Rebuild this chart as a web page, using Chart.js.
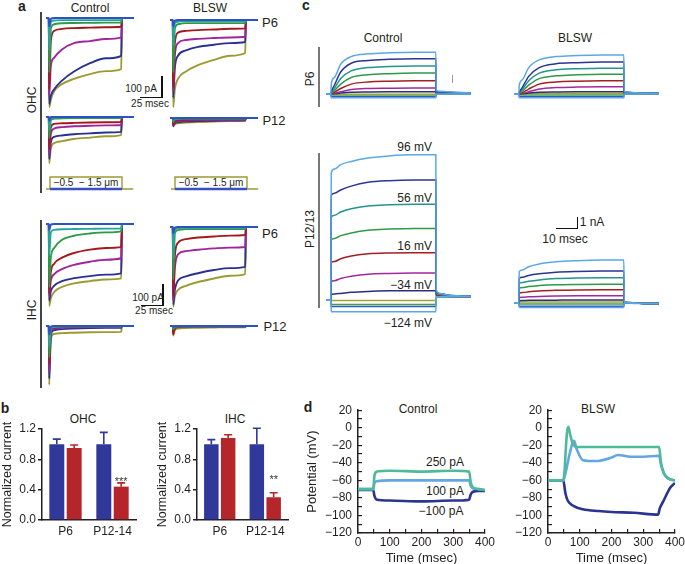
<!DOCTYPE html>
<html>
<head>
<meta charset="utf-8">
<script src="https://cdn.jsdelivr.net/npm/chart.js@4.4.0/dist/chart.umd.min.js"></script>
<style>
body { margin: 0; width: 685px; height: 564px; position: relative; overflow: hidden; background: #fff;
  font-family: "Liberation Sans", Arial, sans-serif; color: #231f20; }
canvas { position: absolute; }
.t { position: absolute; white-space: nowrap; font-size: 12px; line-height: 1; transform: translate(-50%, -50%); }
.r { transform: translate(-100%, -50%); }
.rot { transform: translate(-50%, -50%) rotate(-90deg); }
.b { font-weight: bold; font-size: 14px; }
.s { font-size: 10px; }
.m { font-size: 13px; }
.ln { position: absolute; }
</style>
</head>
<body>

<!-- panel letters and titles -->
<div class="t b" style="left:22px;top:6px">a</div>
<div class="t" style="left:90px;top:8px">Control</div>
<div class="t" style="left:210px;top:8px">BLSW</div>
<div class="t m" style="left:270px;top:22px">P6</div>
<div class="t m" style="left:274px;top:120px">P12</div>
<div class="t rot" style="left:32px;top:100px">OHC</div>
<div class="ln" style="left:40px;top:12px;width:2px;height:181px;background:#444"></div>
<div class="t s" style="left:141px;top:89px">100 pA</div>
<div class="t s" style="left:150px;top:104px">25 msec</div>
<div class="ln" style="left:161px;top:76px;width:1.5px;height:22px;background:#111"></div>
<div class="ln" style="left:140px;top:96.5px;width:22px;height:1.5px;background:#111"></div>
<div class="t s" style="left:86px;top:183px">−0.5 &nbsp;− 1.5 μm</div>
<div class="t s" style="left:211px;top:183px">−0.5 &nbsp;− 1.5 μm</div>

<div class="t rot" style="left:32px;top:310px">IHC</div>
<div class="ln" style="left:40px;top:220px;width:2px;height:168px;background:#444"></div>
<div class="t m" style="left:270px;top:233px">P6</div>
<div class="t m" style="left:275px;top:326px">P12</div>
<div class="t s" style="left:148px;top:298px">100 pA</div>
<div class="t s" style="left:154px;top:311px">25 msec</div>
<div class="ln" style="left:162px;top:284px;width:1.5px;height:22px;background:#111"></div>
<div class="ln" style="left:141px;top:304.5px;width:22px;height:1.5px;background:#111"></div>

<div class="t b" style="left:5px;top:408px">b</div>
<div class="t" style="left:83px;top:419px">OHC</div>
<div class="t" style="left:235px;top:419px">IHC</div>

<div class="t b" style="left:306px;top:5px">c</div>
<div class="t" style="left:383px;top:38px">Control</div>
<div class="t" style="left:575px;top:38px">BLSW</div>
<div class="t rot" style="left:310px;top:79px">P6</div>
<div class="ln" style="left:318px;top:47px;width:2px;height:60px;background:#777"></div>
<div class="t rot" style="left:310px;top:229px">P12/13</div>
<div class="ln" style="left:318px;top:153px;width:2px;height:155px;background:#777"></div>
<div class="ln" style="left:452px;top:75px;width:1px;height:8px;background:#999"></div>
<div class="t r" style="left:432px;top:147px">96 mV</div>
<div class="t r" style="left:432px;top:198px">56 mV</div>
<div class="t r" style="left:432px;top:246px">16 mV</div>
<div class="t r" style="left:432px;top:285px">−34 mV</div>
<div class="t r" style="left:432px;top:323px">−124 mV</div>
<div class="ln" style="left:556px;top:227.5px;width:22px;height:1.5px;background:#111"></div>
<div class="ln" style="left:576.5px;top:217px;width:1.5px;height:12px;background:#111"></div>
<div class="t" style="left:592px;top:222px">1 nA</div>
<div class="t" style="left:565px;top:239px">10 msec</div>

<div class="t b" style="left:308px;top:407px">d</div>
<div class="t" style="left:418px;top:409px">Control</div>
<div class="t" style="left:598px;top:409px">BLSW</div>
<div class="t" style="left:445px;top:462px">250 pA</div>
<div class="t" style="left:445px;top:491px">100 pA</div>
<div class="t" style="left:441px;top:511px">−100 pA</div>

<script>
Chart.defaults.font.family = '"Liberation Sans", Arial, sans-serif';
Chart.defaults.font.size = 12;
Chart.defaults.color = "#231f20";

// ---------- panel a : currents (pA) vs time (msec) ----------
const tA = [0, 3.5, 4, 6, 10, 20, 35, 55, 75, 94, 95, 110];
// order of rows: blue, teal, green, red, magenta, navy, olive
const colorsA = ["#2d52c6", "#25a597", "#2c9a48", "#a3191d", "#a1249c", "#2a2f92", "#9c9b33"];

const ohcP6Ctrl = [
  [0, 0, -40, -5, 0, 0, 0, 0, 0, 0, 0, 0],
  [0, 0, -150, -20, -12, -10, -10, -10, -10, -10, 0, 0],
  [0, 0, -260, -50, -30, -25, -24, -23, -22, -22, 0, 0],
  [0, 0, -340, -110, -62, -52, -48, -46, -44, -42, 0, 0],
  [0, 0, -370, -230, -190, -150, -120, -110, -100, -92, 0, 0],
  [0, 0, -410, -370, -340, -298, -255, -215, -192, -180, 0, 0],
  [0, 0, -425, -390, -350, -315, -290, -267, -253, -243, 0, 0],
];
const ohcP6Blsw = [
  [0, 0, -30, -3, 0, 0, 0, 0, 0, 0, 0, 0],
  [0, 0, -120, -15, -8, -5, -5, -5, -5, -5, 0, 0],
  [0, 0, -250, -40, -20, -15, -15, -15, -15, -15, 0, 0],
  [0, 0, -320, -110, -60, -52, -48, -45, -42, -40, 0, 0],
  [0, 0, -340, -170, -110, -95, -90, -86, -83, -80, 0, 0],
  [0, 0, -370, -230, -170, -145, -128, -118, -110, -105, 0, 0],
  [0, 0, -415, -330, -280, -245, -215, -190, -170, -157, 0, 0],
];
const ohcP12Ctrl = [
  [0, 0, -20, 0, 0, 0, 0, 0, 0, 0, 0, 0],
  [0, 0, -60, -8, -3, -2, -2, -2, -2, -2, 0, 0],
  [0, 0, -100, -15, -8, -6, -5, -5, -5, -5, 0, 0],
  [0, 0, -150, -50, -33, -30, -28, -26, -25, -24, 0, 0],
  [0, 0, -180, -80, -55, -48, -44, -42, -40, -38, 0, 0],
  [0, 0, -200, -120, -95, -88, -82, -78, -74, -71, 0, 0],
  [0, 0, -220, -150, -125, -115, -105, -98, -92, -86, 0, 0],
];
const ohcP12Blsw = [
  [0, 0, -5, 0, 0, 0, 0, 0, 0, 0, 0, 0],
  [0, 0, -10, -3, -2, -1, -1, -1, -1, -1, 0, 0],
  [0, 0, -20, -6, -4, -3, -3, -3, -3, -3, 0, 0],
  [0, 0, -30, -15, -10, -8, -7, -6, -5, -5, 0, 0],
  [0, 0, -35, -20, -15, -12, -10, -9, -8, -8, 0, 0],
  [0, 0, -38, -25, -20, -17, -15, -13, -12, -11, 0, 0],
  [0, 0, -40, -30, -25, -22, -19, -17, -15, -14, 0, 0],
];
const ihcP6Ctrl = [
  [0, 0, -30, -3, 0, 0, 0, 0, 0, 0, 0, 0],
  [0, 0, -150, -40, -28, -25, -24, -23, -22, -22, 0, 0],
  [0, 0, -300, -160, -115, -75, -56, -45, -40, -35, 0, 0],
  [0, 0, -330, -230, -190, -160, -138, -122, -114, -110, 0, 0],
  [0, 0, -345, -270, -240, -215, -195, -180, -170, -163, 0, 0],
  [0, 0, -365, -320, -295, -272, -258, -248, -241, -235, 0, 0],
  [0, 0, -390, -355, -325, -300, -283, -272, -264, -259, 0, 0],
];
const ihcP6Blsw = [
  [0, 0, -30, -3, 0, 0, 0, 0, 0, 0, 0, 0],
  [0, 0, -150, -15, -5, -4, -4, -4, -4, -4, 0, 0],
  [0, 0, -250, -30, -15, -10, -10, -10, -10, -10, 0, 0],
  [0, 0, -330, -140, -75, -58, -50, -45, -41, -38, 0, 0],
  [0, 0, -350, -200, -130, -115, -108, -102, -98, -95, 0, 0],
  [0, 0, -370, -300, -255, -235, -220, -205, -196, -190, 0, 0],
  [0, 0, -380, -330, -300, -280, -262, -245, -232, -224, 0, 0],
];
const ihcP12Ctrl = [
  [0, 0, -40, -3, 0, 0, 0, 0, 0, 0, 0, 0],
  [0, 0, -100, -8, -3, -2, -1, -1, -1, -1, 0, 0],
  [0, 0, -150, -15, -5, -3, -2, -2, -2, -2, 0, 0],
  [0, 0, -180, -20, -8, -5, -4, -3, -3, -3, 0, 0],
  [0, 0, -220, -30, -12, -8, -6, -5, -5, -5, 0, 0],
  [0, 0, -250, -40, -20, -15, -12, -10, -9, -8, 0, 0],
  [0, 0, -280, -60, -38, -34, -32, -30, -29, -28, 0, 0],
];
const ihcP12Blsw = [
  [0, 0, -5, 0, 0, 0, 0, 0, 0, 0, 0, 0],
  [0, 0, -10, -2, -1, -1, -1, -1, -1, -1, 0, 0],
  [0, 0, -15, -4, -2, -2, -2, -2, -2, -2, 0, 0],
  [0, 0, -40, -12, -6, -4, -3, -3, -3, -3, 0, 0],
  [0, 0, -30, -8, -5, -3, -3, -3, -3, -3, 0, 0],
  [0, 0, -20, -5, -3, -2, -2, -2, -2, -2, 0, 0],
  [0, 0, -45, -20, -12, -10, -8, -7, -6, -6, 0, 0],
];
// stimulus step (relative units)
const tStim = [0, 5, 5, 95, 95, 109];
const vStim = [0, 0, 1, 1, 0, 0];
const tStimBase = [5, 95];
const vStimBase = [0, 0];

// ---------- panel c : currents (nA) vs time (msec) ----------
const tC = [0, 2.3, 2.5, 4, 7, 12, 20, 30, 42, 52.3, 52.5, 54, 58, 63, 69];
// order: light blue (top), light blue (bottom), navy, teal, green, red, magenta, dark navy, olive, green, blue
const colorsC = ["#5aa9e6", "#5aa9e6", "#2b3593", "#24958a", "#2e9a47", "#a31f22",
  "#a1299d", "#2a2f7c", "#a5a236", "#3da050", "#3a55c8"];

const p6Ctrl = [
  [0, 0, 0.9, 1.5, 2.7, 3.4, 3.65, 3.75, 3.8, 3.8, 0.3, 0.25, 0.2, 0.15, 0.1],
  [0, 0, -0.35, -0.35, -0.35, -0.35, -0.35, -0.35, -0.35, -0.35, 0, 0, 0, 0, 0],
  [0, 0, 0.2, 0.8, 2.0, 2.8, 3.05, 3.15, 3.2, 3.2, 0.25, 0.2, 0.15, 0.12, 0.1],
  [0, 0, 0.1, 0.5, 1.4, 2.1, 2.4, 2.5, 2.55, 2.55, 0.2, 0.18, 0.14, 0.1, 0.1],
  [0, 0, 0.05, 0.3, 0.9, 1.5, 1.75, 1.85, 1.9, 1.9, 0.2, 0.15, 0.12, 0.1, 0.1],
  [0, 0, 0.02, 0.15, 0.5, 0.9, 1.1, 1.17, 1.2, 1.2, 0.15, 0.12, 0.1, 0.08, 0.08],
  [0, 0, 0, 0.05, 0.2, 0.4, 0.5, 0.53, 0.55, 0.55, 0.1, 0.1, 0.08, 0.06, 0.05],
  [0, 0, 0, 0.02, 0.08, 0.15, 0.18, 0.2, 0.2, 0.2, 0.05, 0.05, 0.05, 0.05, 0.05],
  [0, 0, -0.03, -0.03, -0.03, -0.03, -0.03, -0.03, -0.03, -0.03, 0, 0, 0, 0, 0],
  [0, 0, -0.1, -0.1, -0.1, -0.1, -0.1, -0.1, -0.1, -0.1, 0, 0, 0, 0, 0],
  [0, 0, -0.25, -0.25, -0.25, -0.25, -0.25, -0.25, -0.25, -0.25, 0, 0, 0, 0, 0],
];
const p6Blsw = [
  [0, 0, 0.8, 1.3, 2.4, 3.1, 3.4, 3.5, 3.55, 3.55, 0.2, 0.18, 0.12, 0.08, 0.05],
  [0, 0, -0.35, -0.35, -0.35, -0.35, -0.35, -0.35, -0.35, -0.35, 0, 0, 0, 0, 0],
  [0, 0, 0.15, 0.6, 1.6, 2.4, 2.75, 2.85, 2.9, 2.9, 0.2, 0.15, 0.1, 0.08, 0.05],
  [0, 0, 0.08, 0.4, 1.2, 1.9, 2.2, 2.3, 2.35, 2.35, 0.18, 0.14, 0.1, 0.07, 0.05],
  [0, 0, 0.05, 0.25, 0.8, 1.4, 1.65, 1.75, 1.8, 1.8, 0.15, 0.12, 0.09, 0.06, 0.05],
  [0, 0, 0.02, 0.12, 0.45, 0.9, 1.1, 1.17, 1.2, 1.2, 0.12, 0.1, 0.08, 0.05, 0.05],
  [0, 0, 0, 0.05, 0.2, 0.45, 0.58, 0.63, 0.65, 0.65, 0.1, 0.08, 0.06, 0.05, 0.04],
  [0, 0, 0, 0.02, 0.08, 0.15, 0.18, 0.2, 0.2, 0.2, 0.05, 0.05, 0.04, 0.04, 0.04],
  [0, 0, 0.02, 0.02, 0.03, 0.05, 0.05, 0.05, 0.05, 0.05, 0, 0, 0, 0, 0],
  [0, 0, -0.1, -0.1, -0.1, -0.1, -0.1, -0.1, -0.1, -0.1, 0, 0, 0, 0, 0],
  [0, 0, -0.25, -0.25, -0.25, -0.25, -0.25, -0.25, -0.25, -0.25, 0, 0, 0, 0, 0],
];
const p12Ctrl = [
  [0, 0, 11.6, 11.9, 12.3, 12.6, 12.9, 13.1, 13.2, 13.2, 0.9, 0.6, 0.45, 0.38, 0.35],
  [0, 0, -1.06, -1.06, -1.06, -1.06, -1.06, -1.06, -1.06, -1.06, 0.3, 0.3, 0.3, 0.3, 0.3],
  [0, 0, 9.5, 9.7, 10.0, 10.35, 10.7, 10.85, 10.9, 10.9, 0.8, 0.6, 0.45, 0.38, 0.35],
  [0, 0, 7.5, 7.7, 8.0, 8.3, 8.55, 8.65, 8.7, 8.7, 0.7, 0.55, 0.42, 0.36, 0.33],
  [0, 0, 5.45, 5.6, 5.85, 6.1, 6.35, 6.45, 6.5, 6.5, 0.6, 0.5, 0.4, 0.35, 0.33],
  [0, 0, 3.4, 3.5, 3.75, 4.0, 4.2, 4.28, 4.3, 4.3, 0.5, 0.45, 0.38, 0.34, 0.32],
  [0, 0, 1.65, 1.75, 1.95, 2.15, 2.35, 2.42, 2.45, 2.45, 0.45, 0.4, 0.35, 0.32, 0.3],
  [0, 0, 0.5, 0.55, 0.6, 0.7, 0.78, 0.83, 0.85, 0.85, 0.4, 0.35, 0.32, 0.3, 0.3],
  [0, 0, -0.05, -0.05, -0.05, -0.05, -0.05, -0.05, -0.05, -0.05, 0.35, 0.32, 0.3, 0.3, 0.3],
  [0, 0, -0.4, -0.4, -0.4, -0.4, -0.4, -0.4, -0.4, -0.4, 0.3, 0.3, 0.3, 0.3, 0.3],
  [0, 0, -0.6, -0.6, -0.6, -0.6, -0.6, -0.6, -0.6, -0.6, 0.3, 0.3, 0.3, 0.3, 0.3],
];
const p12Blsw = [
  [0, 0, 2.85, 3.0, 3.3, 3.55, 3.75, 3.85, 3.9, 3.9, 0.1, 0.05, 0, -0.05, -0.05],
  [0, 0, -0.4, -0.4, -0.4, -0.4, -0.4, -0.4, -0.4, -0.4, 0, 0, -0.05, -0.05, -0.05],
  [0, 0, 2.25, 2.35, 2.5, 2.65, 2.8, 2.87, 2.9, 2.9, 0.1, 0.05, 0, -0.05, -0.05],
  [0, 0, 1.8, 1.87, 1.98, 2.1, 2.22, 2.28, 2.3, 2.3, 0.1, 0.05, 0, -0.05, -0.05],
  [0, 0, 1.35, 1.4, 1.5, 1.58, 1.65, 1.68, 1.7, 1.7, 0.08, 0.04, 0, -0.05, -0.05],
  [0, 0, 0.9, 0.95, 1.02, 1.1, 1.16, 1.19, 1.2, 1.2, 0.06, 0.03, 0, -0.05, -0.05],
  [0, 0, 0.5, 0.52, 0.56, 0.6, 0.63, 0.65, 0.65, 0.65, 0.05, 0.02, 0, -0.05, -0.05],
  [0, 0, 0.2, 0.22, 0.24, 0.25, 0.26, 0.27, 0.27, 0.27, 0.03, 0, 0, -0.05, -0.05],
  [0, 0, 0.1, 0.1, 0.1, 0.1, 0.1, 0.1, 0.1, 0.1, 0, 0, 0, -0.05, -0.05],
  [0, 0, -0.1, -0.1, -0.1, -0.1, -0.1, -0.1, -0.1, -0.1, 0, 0, 0, -0.05, -0.05],
  [0, 0, -0.3, -0.3, -0.3, -0.3, -0.3, -0.3, -0.3, -0.3, 0, 0, 0, -0.05, -0.05],
];

// ---------- panel b : normalized current ----------
const ages = ["P6", "P12-14"];
const bTicks = [0, 0.4, 0.8, 1.2];
const ohcCtrl = [1.0, 1.0];
const ohcCtrlErr = [0.067, 0.155];
const ohcBlsw = [0.95, 0.44];
const ohcBlswErr = [0.04, 0.05];
const ohcStars = ["", "***"];
const ihcCtrl = [1.0, 1.0];
const ihcCtrlErr = [0.06, 0.21];
const ihcBlsw = [1.08, 0.30];
const ihcBlswErr = [0.045, 0.06];
const ihcStars = ["", "**"];

// ---------- panel d : membrane potential (mV) vs time (msec) ----------
const dTimeTicks = [0, 50, 100, 150, 200, 250, 300, 350, 400];
const dVoltTicks = [-120, -110, -100, -90, -80, -70, -60, -50, -40, -30, -20, -10, 0, 10, 20];

const ctlT = [0, 48, 52, 60, 100, 200, 300, 350, 355, 362, 380, 400];
const ctl250 = [-70, -70, -54, -50, -49, -50, -49, -50, -62, -68, -70, -71];
const ctl100 = [-70, -70, -63, -61, -60, -60, -60, -60, -66, -69, -70, -71];
const ctlM100 = [-71, -71, -78, -82, -83, -84, -83, -82, -76, -73, -72, -72];

const blsT250 = [0, 48, 52, 56, 60, 64, 70, 78, 90, 120, 200, 300, 350, 356, 365, 380, 400];
const blsV250 = [-60, -60, -50, -25, -5, 1, -8, -18, -22, -22, -22, -22, -22, -40, -52, -58, -60];
const blsT100 = [0, 48, 55, 65, 75, 82, 90, 110, 150, 200, 220, 260, 300, 350, 356, 365, 380, 400];
const blsV100 = [-60, -60, -52, -35, -20, -15, -24, -37, -38, -34, -31, -33, -33, -32, -42, -52, -58, -60];
const blsTM100 = [0, 48, 55, 62, 80, 110, 160, 200, 270, 347, 352, 363, 384, 400];
const blsVM100 = [-60, -60, -75, -83, -89, -93, -95, -96, -97, -99, -92, -84, -69, -63];

const colD = ["#4dba98", "#62a7e3", "#2b3490"];

// ---------- helpers ----------
function makeCanvas(left, top, width, height) {
  const cv = document.createElement("canvas");
  cv.width = width;
  cv.height = height;
  cv.style.left = left + "px";
  cv.style.top = top + "px";
  document.body.appendChild(cv);
  return cv;
}

// trace group with hidden axes; base = baseline row in page px
function traceChart(box, times, rows, colors, lw) {
  const cv = makeCanvas(box.left, box.top, box.width, box.height);
  new Chart(cv, {
    type: "line",
    data: {
      datasets: rows.map((vals, i) => ({
        data: vals.map((v, j) => ({ x: times[j], y: v })),
        borderColor: colors[i],
        borderWidth: lw,
        pointRadius: 0,
        fill: false,
        cubicInterpolationMode: "monotone",
      })),
    },
    options: {
      responsive: false,
      animation: false,
      devicePixelRatio: 1,
      layout: { padding: 0 },
      plugins: { legend: { display: false }, tooltip: { enabled: false } },
      scales: {
        x: { type: "linear", display: false, min: 0, max: box.width / box.px },
        y: {
          display: false,
          min: -(box.top + box.height - box.base) / box.py,
          max: (box.base - box.top) / box.py,
        },
      },
    },
  });
}

const minus = (v) => (v < 0 ? "\u2212" + Math.abs(v) : "" + v);

// ---------- draw panel a ----------
const pxA = 0.8, pyA = 0.21;
traceChart({ left: 46, top: 8, width: 88, height: 104, base: 18, px: pxA, py: pyA }, tA, ohcP6Ctrl, colorsA, 1.9);
traceChart({ left: 170, top: 10, width: 88, height: 102, base: 20, px: pxA, py: pyA }, tA, ohcP6Blsw, colorsA, 1.9);
traceChart({ left: 46, top: 106, width: 88, height: 62, base: 117, px: pxA, py: pyA }, tA, ohcP12Ctrl, colorsA, 1.9);
traceChart({ left: 170, top: 106, width: 88, height: 30, base: 118, px: pxA, py: pyA }, tA, ohcP12Blsw, colorsA, 1.9);
traceChart({ left: 46, top: 214, width: 88, height: 96, base: 224, px: pxA, py: pyA }, tA, ihcP6Ctrl, colorsA, 1.9);
traceChart({ left: 170, top: 214, width: 88, height: 96, base: 227, px: pxA, py: pyA }, tA, ihcP6Blsw, colorsA, 1.9);
traceChart({ left: 46, top: 316, width: 88, height: 76, base: 326, px: pxA, py: pyA }, tA, ihcP12Ctrl, colorsA, 1.9);
traceChart({ left: 170, top: 316, width: 88, height: 30, base: 326, px: pxA, py: pyA }, tA, ihcP12Blsw, colorsA, 1.9);

// stimulus boxes
[46, 171].forEach((left) => {
  const cv = makeCanvas(left, 170, 90, 24);
  new Chart(cv, {
    type: "line",
    data: {
      datasets: [
        { data: tStimBase.map((t, j) => ({ x: t, y: vStimBase[j] })), borderColor: "#3a4fc0", borderWidth: 2.5, pointRadius: 0 },
        { data: tStim.map((t, j) => ({ x: t, y: vStim[j] })), borderColor: "#9c9b33", borderWidth: 1.4, pointRadius: 0 },
      ],
    },
    options: {
      responsive: false, animation: false, devicePixelRatio: 1,
      plugins: { legend: { display: false }, tooltip: { enabled: false } },
      scales: {
        x: { type: "linear", display: false, min: 0, max: 90 / pxA },
        y: { display: false, min: -(194 - 189) / 12, max: (189 - 170) / 12 },
      },
    },
  });
});

// ---------- draw panel c ----------
const pxC = 2.1, pyC = 11;
traceChart({ left: 326, top: 45, width: 145, height: 62, base: 94, px: pxC, py: pyC }, tC, p6Ctrl, colorsC, 1.5);
traceChart({ left: 514, top: 45, width: 145, height: 62, base: 94, px: pxC, py: pyC }, tC, p6Blsw, colorsC, 1.5);
traceChart({ left: 326, top: 146, width: 145, height: 176, base: 300, px: pxC, py: pyC }, tC, p12Ctrl, colorsC, 1.5);
traceChart({ left: 514, top: 248, width: 145, height: 66, base: 303, px: pxC, py: pyC }, tC, p12Blsw, colorsC, 1.5);

// ---------- draw panel b ----------
const errorBars = {
  id: "errorBars",
  afterDatasetsDraw(chart, args, opts) {
    const ctx = chart.ctx;
    const y = chart.scales.y;
    chart.data.datasets.forEach((ds, i) => {
      chart.getDatasetMeta(i).data.forEach((bar, j) => {
        const top = y.getPixelForValue(ds.data[j] + ds.err[j]);
        ctx.save();
        ctx.strokeStyle = ds.backgroundColor;
        ctx.lineWidth = 1.6;
        ctx.beginPath();
        ctx.moveTo(bar.x, bar.y);
        ctx.lineTo(bar.x, top);
        ctx.moveTo(bar.x - 4, top);
        ctx.lineTo(bar.x + 4, top);
        ctx.stroke();
        if (ds.stars && ds.stars[j]) {
          ctx.fillStyle = "#333";
          ctx.font = '11px "Liberation Sans"';
          ctx.textAlign = "center";
          ctx.fillText(ds.stars[j], bar.x, top - opts.gap);
        }
        ctx.restore();
      });
    });
  },
};

function barChart(left, width, ctrl, ctrlErr, blsw, blswErr, stars, gap) {
  const cv = makeCanvas(left, 412, width, 128);
  new Chart(cv, {
    type: "bar",
    data: {
      labels: ages,
      datasets: [
        { data: ctrl, err: ctrlErr, backgroundColor: "#30389a", barPercentage: 0.86, categoryPercentage: 0.74 },
        { data: blsw, err: blswErr, stars: stars, backgroundColor: "#b5262b", barPercentage: 0.86, categoryPercentage: 0.74 },
      ],
    },
    options: {
      responsive: false, animation: false, devicePixelRatio: 1,
      layout: { padding: { top: 17, right: 3, left: 0, bottom: 0 } },
      plugins: { legend: { display: false }, tooltip: { enabled: false }, errorBars: { gap: gap } },
      scales: {
        x: {
          grid: { display: false, drawTicks: false },
          border: { color: "#231f20", width: 1.5 },
          ticks: { padding: 4 },
          afterFit: (s) => { s.height = 20; },
        },
        y: {
          min: 0, max: 1.2,
          afterBuildTicks: (s) => { s.ticks = bTicks.map((v) => ({ value: v })); },
          ticks: { padding: 2, callback: (v) => v.toFixed(1) },
          grid: { drawOnChartArea: false, tickLength: 4, color: "#231f20", lineWidth: 1.5 },
          border: { color: "#231f20", width: 1.5 },
          title: { display: true, text: "Normalized current", padding: 0, font: { size: 12.5 } },
          afterFit: (s) => { s.width = 42; },
        },
      },
    },
    plugins: [errorBars],
  });
}
barChart(0, 139, ohcCtrl, ohcCtrlErr, ohcBlsw, ohcBlswErr, ohcStars, -2);
barChart(155, 136, ihcCtrl, ihcCtrlErr, ihcBlsw, ihcBlswErr, ihcStars, 10);

// ---------- draw panel d ----------
// ticks point into the plot, as in the original figure (negative tick length)
function vmChart(left, series, showYTitle) {
  const cv = makeCanvas(left, 393, 201, 171);
  new Chart(cv, {
    type: "line",
    data: {
      datasets: series.map((s, i) => ({
        data: s[0].map((t, j) => ({ x: t, y: s[1][j] })),
        borderColor: colD[i],
        borderWidth: 2.6,
        pointRadius: 0,
        cubicInterpolationMode: "monotone",
      })),
    },
    options: {
      responsive: false, animation: false, devicePixelRatio: 1,
      layout: { padding: 0 },
      plugins: { legend: { display: false }, tooltip: { enabled: false } },
      scales: {
        x: {
          type: "linear", min: 0, max: 400,
          afterBuildTicks: (s) => { s.ticks = dTimeTicks.map((v) => ({ value: v })); },
          ticks: { autoSkip: false, maxRotation: 0, minRotation: 0, padding: 6, callback: (v) => (v % 100 === 0 ? v : "") },
          grid: { drawOnChartArea: false, tickLength: -4, color: "#231f20", lineWidth: 1.2 },
          border: { color: "#231f20", width: 1.5 },
          title: { display: true, text: "Time (msec)", padding: { top: 0, bottom: -2 }, font: { size: 13 } },
          afterFit: (s) => { s.height = 31; },
        },
        y: {
          min: -120, max: 20,
          afterBuildTicks: (s) => { s.ticks = dVoltTicks.map((v) => ({ value: v })); },
          ticks: { autoSkip: false, padding: 10, callback: (v) => (v % 20 === 0 ? minus(v) : "") },
          grid: { drawOnChartArea: false, tickLength: -4, color: "#231f20", lineWidth: 1.2 },
          border: { color: "#231f20", width: 1.5 },
          title: { display: showYTitle, text: "Potential (mV)", padding: { top: 5, bottom: 0 }, font: { size: 13 } },
          afterFit: (s) => { s.width = 58; },
        },
      },
    },
  });
}
vmChart(300, [[ctlT, ctl250], [ctlT, ctl100], [ctlT, ctlM100]], true);
vmChart(490, [[blsT250, blsV250], [blsT100, blsV100], [blsTM100, blsVM100]], false);
</script>
</body>
</html>
